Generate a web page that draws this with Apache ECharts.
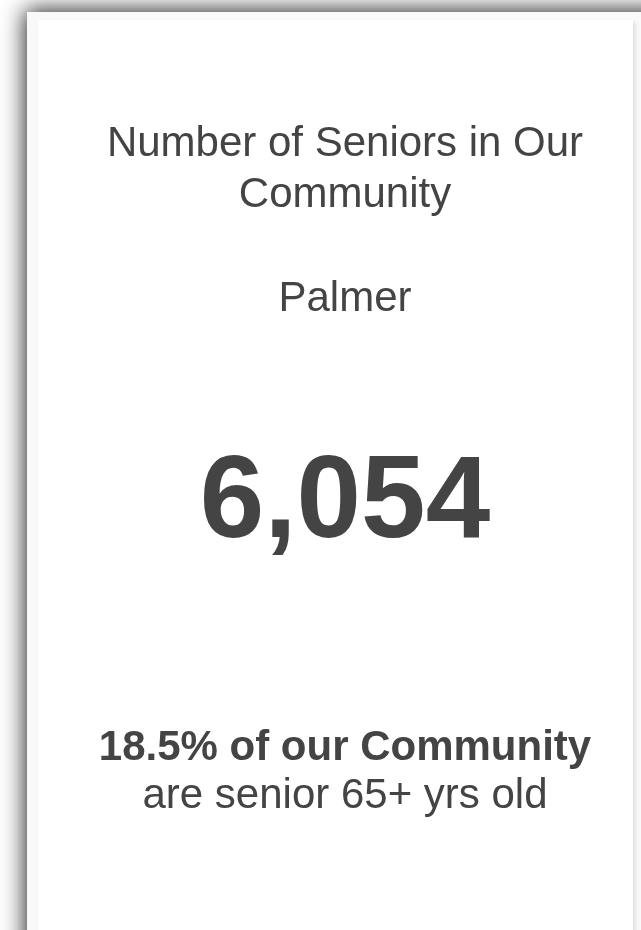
<!DOCTYPE html>
<html>
<head>
<meta charset="utf-8">
<style>
  html, body { margin: 0; padding: 0; background: #fff; }
  #chart { width: 641px; height: 930px; }
</style>
<script src="https://cdn.jsdelivr.net/npm/echarts@6/dist/echarts.min.js"></script>
</head>
<body>
<div id="chart"></div>
<script>
var titleLines = ['Number of Seniors in Our', 'Community']
var placeName = ['Palmer']
var seniorCount = [6054]
var seniorShare = [18.5]
var footerLines = ['of our Community', 'are senior 65+ yrs old']

var font = '"Liberation Sans", Arial, sans-serif'
var textColor = '#444444'
var cx = 345

var chart = echarts.init(document.getElementById('chart'), null, { renderer: 'canvas' })

function label(text, y, size, weight) {
  return {
    type: 'text',
    x: cx,
    y: y,
    silent: true,
    style: {
      text: text,
      fill: textColor,
      font: (weight || 'normal') + ' ' + size + 'px ' + font,
      align: 'center',
      verticalAlign: 'middle'
    }
  }
}

chart.setOption({
  backgroundColor: '#ffffff',
  graphic: [
    // outer card, heavy shadow top/left
    {
      type: 'rect',
      shape: { x: 27, y: 12, width: 660, height: 960 },
      style: {
        fill: '#f9f9f9',
        shadowBlur: 22,
        shadowOffsetX: -2,
        shadowOffsetY: -2,
        shadowColor: 'rgba(0,0,0,0.85)'
      },
      silent: true
    },
    // inner white panel
    {
      type: 'rect',
      shape: { x: 38, y: 20, width: 595, height: 960 },
      style: {
        fill: '#ffffff',
        shadowBlur: 4,
        shadowOffsetX: 2,
        shadowOffsetY: 2,
        shadowColor: 'rgba(0,0,0,0.12)'
      },
      silent: true
    },
    label(titleLines[0], 144, 42),
    label(titleLines[1], 195, 42),
    label(placeName[0], 299, 42),
    label(seniorCount[0].toLocaleString('en-US'), 505, 116, 'bold'),
    label(seniorShare[0].toFixed(1) + '% ' + footerLines[0], 748, 42, 'bold'),
    label(footerLines[1], 796, 42)
  ]
})
</script>
</body>
</html>
